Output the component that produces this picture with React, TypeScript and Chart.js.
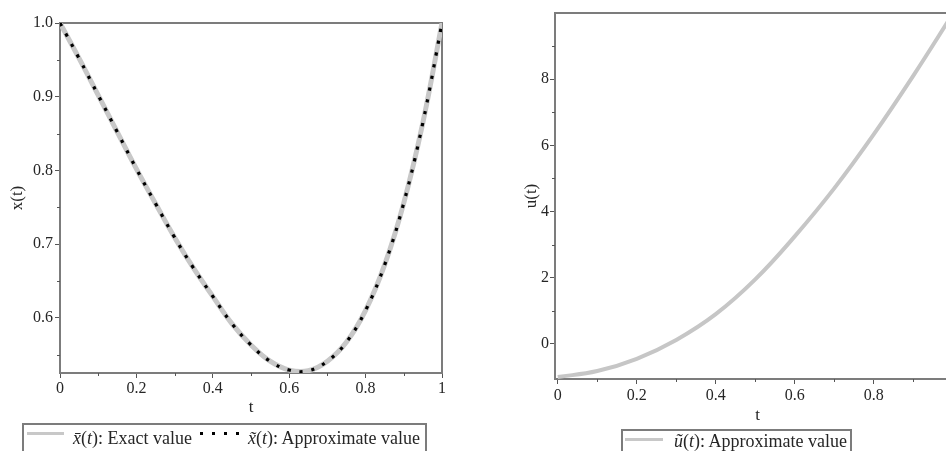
import React, { useEffect, useRef } from "react";
import { Chart, registerables } from "chart.js";

Chart.register(...registerables);

// ---------- data ----------
const tX = [0, 0.05, 0.1, 0.15, 0.2, 0.25, 0.3, 0.35, 0.4, 0.45, 0.5, 0.55, 0.6, 0.65, 0.7, 0.75, 0.8, 0.85, 0.9, 0.95, 1.0];
const xExact = [1.0, 0.952, 0.902, 0.852, 0.802, 0.755, 0.709, 0.667, 0.629, 0.592, 0.563, 0.541, 0.529, 0.528, 0.541, 0.567, 0.61, 0.672, 0.756, 0.865, 1.0];
const xApprox = [1.0, 0.952, 0.902, 0.852, 0.802, 0.755, 0.709, 0.667, 0.629, 0.592, 0.563, 0.541, 0.529, 0.528, 0.541, 0.567, 0.61, 0.672, 0.756, 0.865, 1.0];

const tU = [0, 0.1, 0.2, 0.3, 0.4, 0.5, 0.6, 0.7, 0.8, 0.9, 1.0];
const uApprox = [-1.0, -0.82, -0.45, 0.12, 0.9, 1.95, 3.25, 4.7, 6.33, 8.1, 9.97];

const tTicks = [0, 0.2, 0.4, 0.6, 0.8, 1];
const tTickLabels = ["0", "0.2", "0.4", "0.6", "0.8", "1"];
const tMinor = [0.1, 0.3, 0.5, 0.7, 0.9];

const xTicks = [0.6, 0.7, 0.8, 0.9, 1.0];
const xTickLabels = ["0.6", "0.7", "0.8", "0.9", "1.0"];
const xMinor = [0.55, 0.65, 0.75, 0.85, 0.95];

const uTicks = [0, 2, 4, 6, 8];
const uTickLabels = ["0", "2", "4", "6", "8"];
const uMinor = [1, 3, 5, 7, 9];

const FONT = '"Liberation Serif", "Times New Roman", serif';
const FRAME = "#7c7c7c";
const TEXT = "#262626";

function toPoints(xs: number[], ys: number[]) {
  return xs.map((x, i) => ({ x, y: ys[i] }));
}

function framePlugin(minorX: number[], minorY: number[]) {
  return {
    id: "frameMinor",
    beforeDatasetsDraw(chart: any) {
      const { ctx, chartArea } = chart;
      ctx.save();
      ctx.strokeStyle = FRAME;
      ctx.lineWidth = 2;
      ctx.strokeRect(chartArea.left, chartArea.top, chartArea.right - chartArea.left, chartArea.bottom - chartArea.top);
      ctx.restore();
    },
    afterDraw(chart: any) {
      const { ctx, chartArea, scales } = chart;
      ctx.save();
      ctx.strokeStyle = "#555";
      ctx.lineWidth = 1;
      ctx.beginPath();
      for (const v of minorX) {
        const px = Math.round(scales.x.getPixelForValue(v)) + 0.5;
        ctx.moveTo(px, chartArea.bottom);
        ctx.lineTo(px, chartArea.bottom + 3);
      }
      for (const v of minorY) {
        const py = Math.round(scales.y.getPixelForValue(v)) + 0.5;
        if (py > chartArea.bottom - 1 || py < chartArea.top + 1) continue;
        ctx.moveTo(chartArea.left - 3, py);
        ctx.lineTo(chartArea.left, py);
      }
      ctx.stroke();
      ctx.restore();
    },
  };
}

function axis(
  min: number,
  max: number,
  ticks: number[],
  labels: string[],
  title: string,
  size: number,
  titlePad: any,
  tickPad: number,
  horizontal: boolean
) {
  return {
    type: "linear",
    min,
    max,
    afterBuildTicks: (s: any) => {
      s.ticks = ticks.map((v) => ({ value: v }));
    },
    afterFit: (s: any) => {
      if (horizontal) s.height = size;
      else s.width = size;
    },
    border: { display: false },
    grid: {
      drawOnChartArea: false,
      drawTicks: true,
      tickLength: 5,
      tickColor: "#555",
      tickWidth: 1,
    },
    ticks: {
      autoSkip: false,
      maxRotation: 0,
      minRotation: 0,
      padding: tickPad,
      color: TEXT,
      font: { family: FONT, size: 16 },
      callback: (_v: any, i: number) => labels[i],
    },
    title: {
      display: true,
      text: title,
      color: TEXT,
      font: { family: FONT, size: 17 },
      padding: titlePad,
    },
  };
}

function LeftChart() {
  const ref = useRef<HTMLCanvasElement | null>(null);
  useEffect(() => {
    if (!ref.current) return;
    const chart = new Chart(ref.current, {
      type: "line",
      data: {
        datasets: [
          {
            label: "approx",
            data: toPoints(tX, xApprox),
            borderColor: "#000",
            borderWidth: 3.2,
            borderDash: [3.2, 8.8],
            borderCapStyle: "butt",
            pointRadius: 0,
            tension: 0.4,
            order: 1,
          },
          {
            label: "exact",
            data: toPoints(tX, xExact),
            borderColor: "#c8c8c8",
            borderWidth: 5,
            pointRadius: 0,
            tension: 0.4,
            order: 2,
          },
        ],
      } as any,
      options: {
        animation: false,
        responsive: false,
        maintainAspectRatio: false,
        layout: { padding: { left: 0, right: 18, top: 23, bottom: 0 } },
        plugins: { legend: { display: false }, tooltip: { enabled: false } },
        scales: {
          x: axis(0, 1, tTicks, tTickLabels, "t", 78, { top: 0, bottom: 33 }, 1, true),
          y: axis(0.525, 1.0, xTicks, xTickLabels, "x(t)", 60, { top: 7, bottom: 0 }, 2, false),
        } as any,
      },
      plugins: [framePlugin(tMinor, xMinor)],
    } as any);
    return () => chart.destroy();
  }, []);
  return (
    <canvas
      ref={ref}
      width={460}
      height={451}
      style={{ position: "absolute", left: 0, top: 0, width: 460, height: 451 }}
    />
  );
}

function RightChart() {
  const ref = useRef<HTMLCanvasElement | null>(null);
  useEffect(() => {
    if (!ref.current) return;
    const chart = new Chart(ref.current, {
      type: "line",
      data: {
        datasets: [
          {
            label: "u",
            data: toPoints(tU, uApprox),
            borderColor: "#c6c6c6",
            borderWidth: 4,
            pointRadius: 0,
            tension: 0.4,
          },
        ],
      } as any,
      options: {
        animation: false,
        responsive: false,
        maintainAspectRatio: false,
        layout: { padding: { left: 0, right: 10, top: 13, bottom: 0 } },
        plugins: { legend: { display: false }, tooltip: { enabled: false } },
        scales: {
          x: axis(-0.007, 1.0185, tTicks, tTickLabels, "t", 72, { top: 0, bottom: 25 }, 2, true),
          y: axis(-1.06, 10, uTicks, uTickLabels, "u(t)", 65, { top: 31, bottom: 0 }, 1, false),
        } as any,
      },
      plugins: [framePlugin(tMinor, uMinor)],
    } as any);
    return () => chart.destroy();
  }, []);
  return (
    <canvas
      ref={ref}
      width={480}
      height={451}
      style={{ position: "absolute", left: 490, top: 0, width: 480, height: 451 }}
    />
  );
}

const legendText: React.CSSProperties = {
  position: "absolute",
  fontFamily: FONT,
  fontSize: 18,
  lineHeight: "20px",
  color: TEXT,
  whiteSpace: "nowrap",
};

export default function App() {
  return (
    <div
      style={{
        position: "absolute",
        left: 0,
        top: 0,
        width: 946,
        height: 451,
        overflow: "hidden",
        background: "#fff",
      }}
    >
      <LeftChart />
      <RightChart />

      {/* left legend */}
      <div
        style={{
          position: "absolute",
          left: 22,
          top: 423,
          width: 405,
          height: 32,
          border: `2px solid ${FRAME}`,
          boxSizing: "border-box",
        }}
      />
      <div style={{ position: "absolute", left: 27, top: 432, width: 37, height: 3, background: "#c8c8c8" }} />
      <div style={{ ...legendText, left: 73, top: 428 }}>
        <i>x&#772;</i>(<i>t</i>): Exact value
      </div>
      <div
        style={{
          position: "absolute",
          left: 200,
          top: 432,
          width: 39,
          height: 3,
          background: "repeating-linear-gradient(to right, #000 0px, #000 3px, transparent 3px, transparent 12px)",
        }}
      />
      <div style={{ ...legendText, left: 248, top: 428 }}>
        <i>x&#771;</i>(<i>t</i>): Approximate value
      </div>

      {/* right legend */}
      <div
        style={{
          position: "absolute",
          left: 621,
          top: 429,
          width: 231,
          height: 30,
          border: `2px solid ${FRAME}`,
          boxSizing: "border-box",
        }}
      />
      <div style={{ position: "absolute", left: 625, top: 438, width: 38, height: 3, background: "#c8c8c8" }} />
      <div style={{ ...legendText, left: 674, top: 431 }}>
        <i>u&#771;</i>(<i>t</i>): Approximate value
      </div>
    </div>
  );
}
